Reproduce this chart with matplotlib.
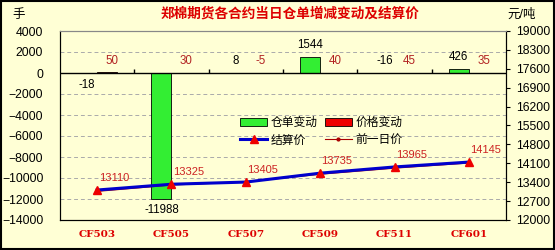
import matplotlib
matplotlib.use("Agg")
from matplotlib import pyplot as plt
from matplotlib.patches import Patch, Rectangle
from matplotlib.lines import Line2D
import numpy as np

plt.rcParams['font.family'] = ['Liberation Sans', 'Noto Sans CJK SC', 'DejaVu Sans']

contracts = ['CF503', 'CF505', 'CF507', 'CF509', 'CF511', 'CF601']
stock_change = [-18, -11988, 8, 1544, -16, 426]
price_change = [50, 30, -5, 40, 45, 35]
settle_price = [13110, 13325, 13405, 13735, 13965, 14145]
prev_price = [13060, 13295, 13410, 13695, 13920, 14110]

bg = '#FFFFD5'
green = '#33EE33'
red = '#EE0000'
blue = '#0000CC'

fig = plt.figure(figsize=(5.55, 2.5), dpi=100, facecolor=bg)
ax = fig.add_axes([0.108, 0.12, 0.804, 0.756], facecolor=bg)
ax2 = ax.twinx()

x = np.arange(len(contracts))
w = 0.27

ax.bar(x - w / 2, stock_change, w, color=green, edgecolor='black', linewidth=0.6, zorder=3)
ax.bar(x + w / 2, price_change, w, color=red, edgecolor='black', linewidth=0.6, zorder=3)
ax.axhline(0, color='black', lw=1, zorder=4)
ax.vlines(x[:-1] + 0.5, 0, 350, color='black', lw=1, zorder=4)

for i, v in enumerate(stock_change):
    if v < 0 and v != -16:
        ax.annotate(str(v), (x[i] - w / 2, v), xytext=(0, -4), textcoords='offset points',
                    ha='center', va='top', fontsize=8.3, color='black')
    else:
        ax.annotate(str(v), (x[i] - w / 2, max(v, 0)), xytext=(0, 4), textcoords='offset points',
                    ha='center', va='bottom', fontsize=8.3, color='black')

for i, v in enumerate(price_change):
    ax.annotate(str(v), (x[i] + 0.2, max(v, 0)), xytext=(0, 4), textcoords='offset points',
                ha='center', va='bottom', fontsize=8.3, color='#B22222')

ax.set_xlim(-0.5, len(contracts) - 0.5)
ax.set_ylim(-14000, 4000)
ax.set_yticks(np.arange(-14000, 4001, 2000))
ax.grid(axis='y', color='#AAAAAA', linestyle=(0, (4, 3)), lw=0.7, zorder=0)
ax.set_xticks(x)
ax.set_xticklabels(contracts, color='#DD0000', fontweight='bold', fontsize=7.5, family='DejaVu Serif')
ax.tick_params(axis='x', length=0, pad=7)
ax.tick_params(axis='y', length=0, pad=12, labelsize=8.8)

ax2.plot(x, prev_price, color='#AA0000', lw=0.8, marker='o', markersize=2, zorder=2)
ax2.plot(x, settle_price, color=blue, lw=2.2, marker='^', markersize=6,
         markerfacecolor=red, markeredgecolor=red, zorder=3)
for i, v in enumerate(settle_price):
    ax2.annotate(str(v), (x[i], v), xytext=(12, 5), textcoords='offset points',
                 ha='center', va='bottom', fontsize=8, color='#CC2222')
ax2.set_ylim(12000, 19000)
ax2.set_yticks(np.arange(12000, 19001, 700))
ax2.tick_params(axis='y', length=3, pad=4, labelsize=8.8)

for a in (ax, ax2):
    a.spines['top'].set_color('#888888')
    a.spines['left'].set_color('black')
    a.spines['right'].set_color('black')
    a.spines['bottom'].set_color('black')

handles = [
    Patch(facecolor=green, edgecolor='black', lw=0.6),
    Line2D([], [], color=blue, lw=2.2, marker='^', markersize=6,
           markerfacecolor=red, markeredgecolor=red),
    Patch(facecolor=red, edgecolor='black', lw=0.6),
    Line2D([], [], color='#AA0000', lw=0.8, marker='o', markersize=2),
]
labels = ['仓单变动', '结算价', '价格变动', '前一日价']
ax.legend(handles, labels, ncol=2, frameon=False, loc='upper left',
          bbox_to_anchor=(0.38, 0.6), fontsize=8.5, handlelength=2.3,
          handleheight=0.7, columnspacing=0.6, handletextpad=0.3, labelspacing=0.45)

fig.text(0.523, 0.944, '郑棉期货各合约当日仓单增减变动及结算价', ha='center', va='center',
         fontsize=9.8, fontweight='bold', color='#DD0000')
fig.text(0.022, 0.94, '手', ha='left', va='center', fontsize=9)
fig.text(0.94, 0.94, '元/吨', ha='center', va='center', fontsize=9)

fig.patches.append(Rectangle((0.002, 0.004), 0.996, 0.992, transform=fig.transFigure,
                             fill=False, edgecolor='black', lw=1.5))

fig.savefig('out.png', dpi=100, facecolor=bg)
